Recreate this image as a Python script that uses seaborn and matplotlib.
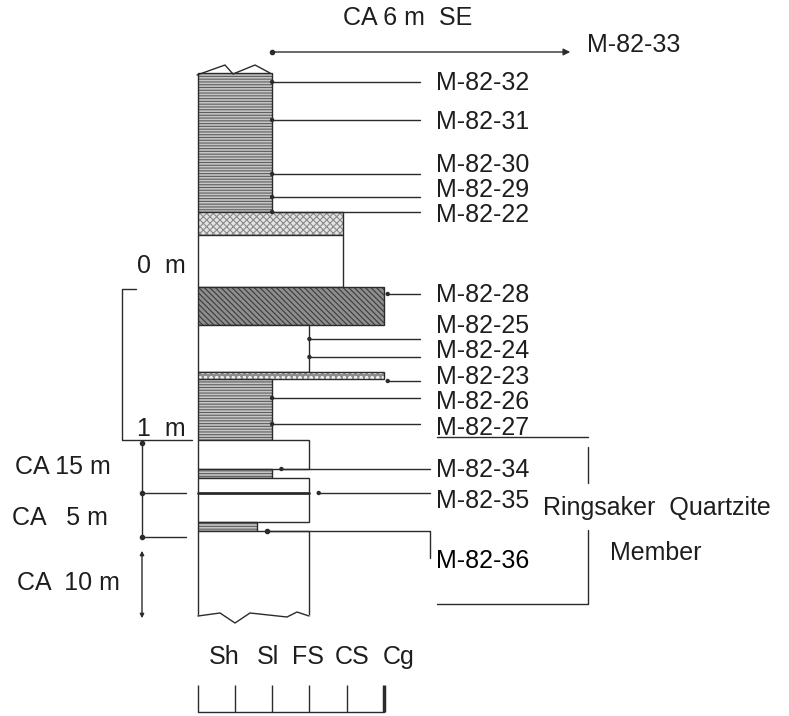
import numpy as np
import matplotlib
matplotlib.use("Agg")
import matplotlib.pyplot as plt
import seaborn as sns

# Grain-size classes along the bottom scale
grain_labels = ["Sh", "Sl", "FS", "CS", "Cg"]
grain_ticks = [0, 1, 2, 3, 4, 5]

# Beds of the column (depth in drawing units, down is positive)
bed_top = [73, 212, 235, 287, 325, 372, 379, 440, 469, 478, 522, 531]
bed_base = [212, 235, 287, 325, 372, 379, 440, 469, 478, 522, 531, 616]
bed_grain = [2, 3.9, 3.9, 5, 3, 5, 2, 3, 2, 3, 1.6, 3]
bed_kind = ["shale", "dotted", "sand", "coarse", "sand", "pebbly", "shale",
            "sand", "shale", "sand", "shale", "sand"]

# Samples: name, depth of the sample line, grain at the arrow point, label depth
sample_names = ["M-82-32", "M-82-31", "M-82-30", "M-82-29", "M-82-22",
                "M-82-28", "M-82-25", "M-82-24", "M-82-23", "M-82-26",
                "M-82-27", "M-82-34", "M-82-35"]
sample_y = [82, 120, 174, 197, 212, 294, 339, 357, 381, 398, 424, 469, 493]
sample_g = [2.0, 2.0, 2.0, 2.0, 2.0, 5.1, 3.0, 3.0, 5.1, 2.0, 2.0, 2.25, 3.25]
label_y = [83, 122, 165, 190, 215, 295, 326, 351, 377, 402, 428, 470, 501]

# drawing scale: pixels of the reference
X0, GS = 197.5, 37.3


def gx(p):
    return (p - X0) / GS


sns.set_theme(style="white")
plt.rcParams["font.family"] = ["Liberation Sans", "DejaVu Sans"]
plt.rcParams["hatch.linewidth"] = 0.8

fig = plt.figure(figsize=(7.89, 7.16), dpi=100)
ax = fig.add_axes([0, 0, 1, 1])
ax.set_xlim(gx(0), gx(789))
ax.set_ylim(716, 0)
ax.axis("off")

ink = "#2b2b2b"
styles = {
    "shale": dict(facecolor="#c6c6c6", edgecolor="#5e5e5e", hatch="------"),
    "dotted": dict(facecolor="#e4e4e4", edgecolor="#8a8a8a", hatch="xxxxx"),
    "sand": dict(facecolor="white", edgecolor="white", hatch=None),
    "coarse": dict(facecolor="#8e8e8e", edgecolor="#3a3a3a", hatch="\\\\\\\\\\\\"),
    "pebbly": dict(facecolor="#8e8e8e", edgecolor="#eeeeee", hatch="ooo"),
}

for t, b, g, k in zip(bed_top, bed_base, bed_grain, bed_kind):
    st = styles[k]
    ax.barh(t, g, height=b - t, left=0, align="edge", linewidth=0, **st)
    ax.barh(t, g, height=b - t, left=0, align="edge", fill=False,
            edgecolor=ink, linewidth=1.0)

# firm line inside the lower sandstone
ax.plot([0, 3], [493, 493], color=ink, lw=2)

# broken top and bottom of the column
top_x = [gx(p) for p in [197, 225, 233, 255, 270]]
top_y = [75, 65, 74, 65, 73]
ax.plot(top_x, top_y, color=ink, lw=1)
bot_x = [gx(p) for p in [198, 220, 235, 250, 287, 297, 309]]
bot_y = [616, 613, 623, 613, 617, 612, 616]
ax.plot([gx(199), gx(308)], [616, 616], color="white", lw=2.5, zorder=3)
ax.plot(bot_x, bot_y, color=ink, lw=1, zorder=4)

# sample lines and labels
line_end = [gx(420)] * 11 + [gx(430)] * 2
for nm, y, g, ly, xe in zip(sample_names, sample_y, sample_g, label_y, line_end):
    ax.plot([g, xe], [y, y], color=ink, lw=1)
    ax.text(gx(436), ly, nm, fontsize=18, va="center", ha="left", color="#1e1e1e")
sns.scatterplot(x=sample_g, y=sample_y, color=ink, s=10, ax=ax, zorder=5,
                edgecolor="none", legend=False)

# M-82-36 with elbow line
ax.plot([gx(267), gx(430), gx(430)], [531, 531, 558], color=ink, lw=1)
ax.plot([gx(267)], [531], "o", color=ink, ms=3)
ax.text(gx(436), 561, "M-82-36", fontsize=18, va="center", ha="left",
        color="black", fontweight="medium")

# M-82-33, lateral sample 6 m to the SE
ax.annotate("", xy=(gx(573), 52), xytext=(gx(271), 52),
            arrowprops=dict(arrowstyle="-|>", color=ink, lw=1, mutation_scale=10))
ax.plot([gx(272)], [52], "o", color=ink, ms=3)
ax.text(gx(587), 45, "M-82-33", fontsize=18, va="center", ha="left", color="#1e1e1e")
ax.text(gx(343), 18, "CA 6 m  SE", fontsize=18, va="center", ha="left", color="#1e1e1e")

# left metre bracket
ax.plot([gx(136), gx(122), gx(122), gx(192)], [289, 289, 440, 440], color=ink, lw=1)
ax.text(gx(137), 266, "0  m", fontsize=18, va="center", ha="left", color="#1e1e1e")
ax.text(gx(137), 429, "1  m", fontsize=18, va="center", ha="left", color="#1e1e1e")

# covered-interval thicknesses
ax.plot([gx(142), gx(142)], [443, 537], color=ink, lw=1)
ax.plot([gx(142), gx(186)], [493, 493], color=ink, lw=1)
ax.plot([gx(142), gx(186)], [537, 537], color=ink, lw=1)
ax.plot([gx(142)] * 3, [443, 493, 537], "o", color=ink, ms=3)
ax.annotate("", xy=(gx(142), 548), xytext=(gx(142), 621),
            arrowprops=dict(arrowstyle="<|-|>", color=ink, lw=1, mutation_scale=6))
ax.text(gx(15), 467, "CA 15 m", fontsize=18, va="center", ha="left", color="#1e1e1e")
ax.text(gx(12), 518, "CA   5 m", fontsize=18, va="center", ha="left", color="#1e1e1e")
ax.text(gx(17), 583, "CA  10 m", fontsize=18, va="center", ha="left", color="#1e1e1e")

# Ringsaker Quartzite Member bracket
ax.plot([gx(437), gx(588)], [437, 437], color=ink, lw=1)
ax.plot([gx(588), gx(588)], [447, 483], color=ink, lw=1)
ax.plot([gx(588), gx(588), gx(437)], [530, 604, 604], color=ink, lw=1)
ax.text(gx(543), 508, "Ringsaker  Quartzite", fontsize=18, va="center", ha="left",
        color="#1e1e1e")
ax.text(gx(610), 553, "Member", fontsize=18, va="center", ha="left", color="#1e1e1e")

# grain-size scale
label_x = [0.71, 1.89, 2.96, 4.14, 5.38]
for lx, lb in zip(label_x, grain_labels):
    ax.text(lx, 657, lb, fontsize=18, va="center", ha="center", color="#1e1e1e")
ax.plot([grain_ticks[0], grain_ticks[-1]], [712, 712], color=ink, lw=1)
ax.vlines(grain_ticks, 685, 712, color=ink, lw=[1, 1, 1, 1, 1, 2.5])

fig.savefig("out.png", dpi=100)
